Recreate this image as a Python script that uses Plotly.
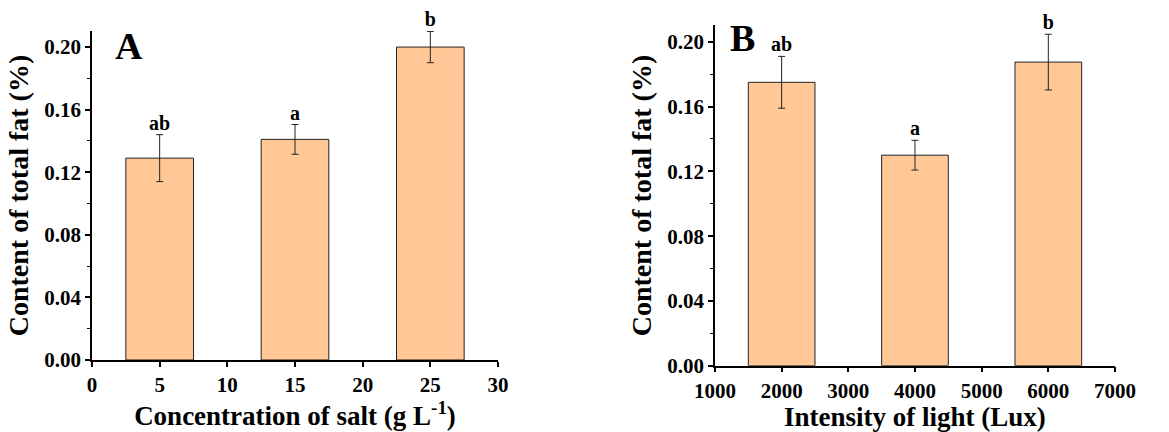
import plotly.graph_objects as go

# Panel A data
salt = [5, 15, 25]
fat_salt = [0.129, 0.141, 0.200]
err_salt = [0.015, 0.0095, 0.010]
sig_salt = ["ab", "a", "b"]

# Panel B data
light = [2000, 4000, 6000]
fat_light = [0.175, 0.130, 0.1875]
err_light = [0.016, 0.0092, 0.0172]
sig_light = ["ab", "a", "b"]

y_ticks = [0.00, 0.04, 0.08, 0.12, 0.16, 0.20]
salt_ticks = [0, 5, 10, 15, 20, 25, 30]
light_ticks = [1000, 2000, 3000, 4000, 5000, 6000, 7000]

FONT = "Liberation Serif"
BAR_COLOR = "#FFC896"

fig = go.Figure()
fig.add_trace(go.Bar(
    x=salt, y=fat_salt, width=5, marker=dict(color=BAR_COLOR, line=dict(color="#222", width=1)),
    error_y=dict(type="data", array=err_salt, color="#222", thickness=1, width=3.5),
    xaxis="x", yaxis="y", showlegend=False))
fig.add_trace(go.Bar(
    x=light, y=fat_light, width=1000, marker=dict(color=BAR_COLOR, line=dict(color="#222", width=1)),
    error_y=dict(type="data", array=err_light, color="#222", thickness=1, width=3.5),
    xaxis="x2", yaxis="y2", showlegend=False))

# significance letters
lbl_font = dict(family=FONT, size=20, color="black", weight="bold")
fig.add_trace(go.Scatter(
    x=salt, y=[v + e for v, e in zip(fat_salt, err_salt)], text=sig_salt, mode="text",
    textposition="top center", textfont=lbl_font, cliponaxis=False,
    xaxis="x", yaxis="y", showlegend=False, hoverinfo="skip"))
fig.add_trace(go.Scatter(
    x=light, y=[v + e for v, e in zip(fat_light, err_light)], text=sig_light, mode="text",
    textposition="top center", textfont=lbl_font, cliponaxis=False,
    xaxis="x2", yaxis="y2", showlegend=False, hoverinfo="skip"))

tickfont = dict(family=FONT, size=21, color="black", weight="bold")
titlefont = dict(family=FONT, size=27, color="black", weight="bold")

common_y = dict(
    range=[0, 0.2102], tickvals=y_ticks, tickformat=".2f", automargin=False,
    showline=True, linecolor="black", linewidth=1.5, ticks="outside", ticklen=5, tickwidth=1.5,
    tickcolor="black", showgrid=False, zeroline=False, tickfont=tickfont,
    minor=dict(dtick=0.02, tick0=0, ticks="outside", ticklen=3, tickcolor="black", tickwidth=1),
    title=dict(text="Content of total fat (%)", font=dict(family=FONT, size=28, color="black", weight="bold"), standoff=7),
)
common_x = dict(
    automargin=False,
    showline=True, linecolor="black", linewidth=1.5, ticks="outside", ticklen=5, tickwidth=1.5,
    tickcolor="black", showgrid=False, zeroline=False, tickfont=tickfont,
)

fig.update_layout(
    width=1169, height=432, margin=dict(l=0, r=0, t=0, b=0),
    plot_bgcolor="white", paper_bgcolor="white",
    font=dict(family=FONT, color="black"),
    xaxis=dict(domain=[0.0787, 0.426], range=[0, 30], tickvals=salt_ticks,
               anchor="y", title=dict(text="Concentration of salt (g L<sup>-1</sup>)", font=titlefont, standoff=8),
               **common_x),
    yaxis=dict(domain=[0.1667, 0.928], anchor="x", **common_y),
    xaxis2=dict(domain=[0.6116, 0.9538], range=[1000, 7000], tickvals=light_ticks,
                anchor="y2", title=dict(text="Intensity of light (Lux)", font=titlefont, standoff=8),
                **common_x),
    yaxis2=dict(domain=[0.1535, 0.9414], anchor="x2", **common_y),
)

annots = [
    dict(x=0.052, y=0.954, xref="x domain", yref="y domain", text="<b>A</b>", showarrow=False,
         xanchor="left", yanchor="middle", font=dict(family=FONT, size=38, color="black")),
    dict(x=0.033, y=0.963, xref="x2 domain", yref="y2 domain", text="<b>B</b>", showarrow=False,
         xanchor="left", yanchor="middle", font=dict(family=FONT, size=38, color="black")),
]
fig.update_layout(annotations=annots)

fig.write_html("out.html", config={"displayModeBar": False},
               post_script="document.body.style.margin='0';document.body.style.overflow='hidden';")
